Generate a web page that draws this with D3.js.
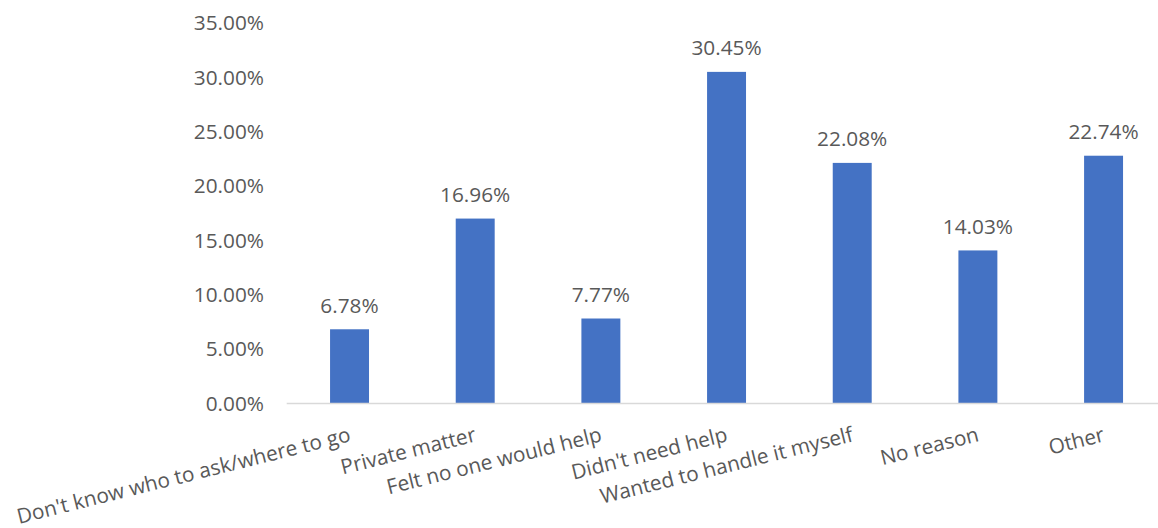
<!DOCTYPE html>
<html><head><meta charset="utf-8">
<script src="https://cdn.jsdelivr.net/npm/d3@7"></script>
<style>body{margin:0;background:#fff}svg{display:block}text{font-family:"Open Sans",sans-serif;fill:#595959}</style>
</head><body>
<script>
const categories = ["Don't know who to ask/where to go","Private matter","Felt no one would help","Didn't need help","Wanted to handle it myself","No reason","Other"];
const values = [6.78,16.96,7.77,30.45,22.08,14.03,22.74];
const yTicks = [0,5,10,15,20,25,30,35];

const W=1158,H=528,FS=20.8;
const svg=d3.select("body").append("svg").attr("width",W).attr("height",H);
const x=d3.scaleBand().domain(categories).range([286.7,1166.4]).paddingInner(0.69).paddingOuter(0.345);
const y=d3.scaleLinear().domain([0,35]).range([403,22.4]);

const yAxis=svg.append("g").attr("transform","translate(264,0)")
  .call(d3.axisLeft(y).tickValues(yTicks).tickSize(0).tickPadding(0).tickFormat(d=>d.toFixed(2)+"%"));
yAxis.select(".domain").remove();
yAxis.selectAll("text").attr("font-size",FS).attr("font-family","'Open Sans',sans-serif").attr("fill","#595959").attr("dy","0.35em");

svg.selectAll("rect.bar").data(values).join("rect").attr("class","bar")
  .attr("x",(d,i)=>x(categories[i])).attr("width",x.bandwidth())
  .attr("y",d=>y(d)).attr("height",d=>y(0)-y(d)).attr("fill","#4472C4");

svg.append("line").attr("x1",286.7).attr("x2",W).attr("y1",y(0)+0.5).attr("y2",y(0)+0.5)
  .attr("stroke","#D9D9D9").attr("stroke-width",1.5);

svg.selectAll("text.val").data(values).join("text").attr("class","val")
  .attr("x",(d,i)=>x(categories[i])+x.bandwidth()/2).attr("y",d=>y(d)-24).attr("dy","0.35em")
  .attr("text-anchor","middle").attr("font-size",FS).text(d=>d.toFixed(2)+"%");

const xAxis=svg.append("g").attr("transform",`translate(0,${y(0)})`)
  .call(d3.axisBottom(x).tickSize(0).tickPadding(0));
xAxis.select(".domain").remove();
xAxis.selectAll("text").attr("font-size",FS).attr("font-family","'Open Sans',sans-serif").attr("fill","#595959")
  .attr("text-anchor","end").attr("y",0).attr("dy",0)
  .attr("transform","translate(2,38) rotate(-14)");
</script>
</body></html>
